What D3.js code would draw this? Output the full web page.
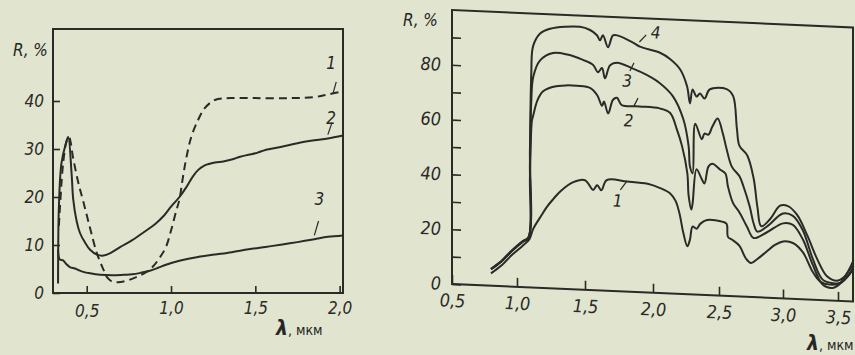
<!DOCTYPE html>
<html>
<head>
<meta charset="utf-8">
<script src="https://cdn.jsdelivr.net/npm/d3@7"></script>
<style>
  body { margin: 0; background: #e1e4cf; }
  svg { display: block; }
  text { font-family: "DejaVu Sans Condensed", "DejaVu Sans", sans-serif; font-style: italic; fill: #262624; }
</style>
</head>
<body>
<svg id="chart" width="855" height="355"></svg>
<script>
// ---- left panel data: wavelength (мкм), R (%)
const leftTicksX = [0.5, 1.0, 1.5, 2.0];
const leftTicksY = [0, 10, 20, 30, 40];
const leftCurve1 = [[0.335,14],[0.36,27],[0.38,31.5],[0.395,32.5],[0.42,28],[0.45,23],[0.48,19],[0.52,13.5],[0.56,8.3],
  [0.6,4.8],[0.62,3.3],[0.65,2.4],[0.7,2.3],[0.75,2.7],[0.8,3.4],[0.85,4.3],[0.89,5.4],[0.93,7.2],[0.97,9.6],[1.0,13],
  [1.03,17],[1.05,19.5],[1.07,24],[1.09,28],[1.12,32.5],[1.16,36],[1.2,38.5],[1.26,40.2],[1.35,40.6],[1.5,40.6],
  [1.7,40.6],[1.85,40.8],[1.92,41.3],[2.02,42]];
const leftCurve2 = [[0.33,2],[0.335,18],[0.35,27],[0.375,31],[0.39,32.5],[0.41,25],[0.42,19.5],[0.44,15],[0.46,12.5],
  [0.49,10.5],[0.52,9],[0.56,8],[0.6,7.8],[0.65,8.5],[0.7,9.6],[0.77,11],[0.84,12.7],[0.91,14.5],[0.96,16.2],[1.0,18],
  [1.05,20],[1.09,22],[1.13,24.3],[1.16,25.6],[1.2,26.6],[1.26,27.2],[1.31,27.4],[1.36,27.8],[1.41,28.4],[1.46,28.8],
  [1.51,29.2],[1.56,29.8],[1.65,30.4],[1.75,31.2],[1.85,31.8],[1.93,32.2],[2.02,32.8]];
const leftCurve3 = [[0.33,9],[0.34,7],[0.36,6.8],[0.38,6],[0.4,5.4],[0.43,5.1],[0.45,4.8],[0.48,4.4],[0.52,4.1],
  [0.58,3.8],[0.65,3.7],[0.72,3.8],[0.77,3.9],[0.82,4.2],[0.87,4.6],[0.92,5.2],[0.97,5.9],[1.05,6.7],[1.16,7.5],
  [1.26,8],[1.36,8.5],[1.46,9.1],[1.56,9.6],[1.66,10.1],[1.75,10.6],[1.85,11.2],[1.93,11.7],[2.02,12]];

// ---- right panel data
const rightTicksX = [0.5, 1.0, 1.5, 2.0, 2.5, 3.0, 3.5];
const rightTicksY = [0, 10, 20, 30, 40, 50, 60, 70, 80, 90];
const rightCurve1 = [[0.8,4.5],[0.88,7.5],[0.96,11.5],[1.04,15],[1.09,17.5],[1.12,21.5],[1.18,26.5],[1.22,29.7],
  [1.27,32.8],[1.32,35.6],[1.41,39],[1.5,40],[1.56,36.6],[1.59,38.4],[1.62,36.6],[1.66,40.4],[1.81,40.2],[1.96,39.7],
  [2.05,38.4],[2.13,36.5],[2.17,34],[2.2,29.5],[2.23,22.3],[2.26,17.5],[2.28,20],[2.3,24.8],[2.33,24.1],[2.36,26],
  [2.41,27.4],[2.53,27],[2.56,26.3],[2.57,21.6],[2.6,20.7],[2.66,18.5],[2.71,14],[2.75,12.4],[2.8,14],[2.87,16.8],
  [2.94,19.5],[3.0,20.8],[3.09,20.4],[3.18,17.2],[3.27,10.2],[3.34,6.7],[3.43,5.8],[3.52,6.6],[3.6,11.5],[3.64,15]];
const rightCurve2 = [[0.8,6],[0.88,9],[0.96,13],[1.04,16.5],[1.085,18],[1.095,40],[1.105,58],[1.11,61],[1.12,63],
  [1.15,68.4],[1.19,71.7],[1.26,73.5],[1.36,74.3],[1.44,74.3],[1.54,73.7],[1.59,71.2],[1.625,67.4],[1.64,69],
  [1.67,64.7],[1.706,69.8],[1.735,70.6],[1.77,68],[1.9,67.8],[2.05,67.4],[2.13,65.9],[2.18,60.1],[2.22,54],
  [2.26,44.2],[2.27,36],[2.29,31],[2.3,33.3],[2.33,45.8],[2.37,42.2],[2.39,40.7],[2.42,46.9],[2.45,48],[2.51,46],
  [2.55,44.7],[2.57,40],[2.61,34],[2.66,30.7],[2.72,25.5],[2.77,21.6],[2.875,23.9],[3.0,27.4],[3.09,27],[3.18,21.9],
  [3.27,12.8],[3.36,5.7],[3.45,4.6],[3.52,6.3],[3.6,9.6],[3.64,12]];
const rightCurve3 = [[0.8,6],[0.88,9],[0.96,13],[1.04,16.5],[1.085,18.2],[1.095,45],[1.105,68],[1.12,77],[1.17,83],
  [1.265,85.9],[1.37,85.6],[1.485,83.9],[1.56,82.2],[1.595,79.6],[1.625,81.2],[1.647,77.5],[1.684,82.3],[1.735,83.4],
  [1.853,81.5],[1.95,79.5],[2.05,76.7],[2.15,72.1],[2.23,63.8],[2.27,54],[2.28,46.7],[2.3,44.2],[2.32,62.4],
  [2.37,56.8],[2.39,58.9],[2.42,58.6],[2.45,61.6],[2.49,64.6],[2.53,59.2],[2.56,53.5],[2.6,47.3],[2.66,43.9],
  [2.69,40.4],[2.74,33],[2.77,27],[2.8,24],[2.875,26],[3.0,31],[3.09,30.3],[3.18,25.2],[3.27,15],[3.36,7.5],
  [3.45,6.4],[3.52,6.6],[3.61,10.4],[3.64,13]];
const rightCurve4 = [[0.8,6.2],[0.88,9.2],[0.96,13.2],[1.04,16.7],[1.085,18.4],[1.095,50],[1.105,78],[1.118,88],
  [1.17,92.8],[1.243,94.7],[1.463,95.9],[1.537,94.9],[1.588,93.1],[1.61,91.3],[1.632,93.2],[1.669,88.9],[1.706,93.3],
  [1.743,93.3],[1.853,91],[1.904,89.6],[2.053,87.7],[2.129,85.6],[2.205,82],[2.258,75.9],[2.28,69.7],[2.3,74.8],
  [2.33,72.3],[2.356,73.5],[2.39,71.7],[2.43,75.1],[2.56,75.5],[2.61,73.1],[2.64,61.2],[2.66,55],[2.72,51.7],
  [2.77,43.5],[2.8,33],[2.83,26],[2.9,28.8],[2.977,33.8],[3.045,33.8],[3.127,30.8],[3.22,23.5],[3.31,15],[3.4,8.8],
  [3.49,7.3],[3.55,8.6],[3.64,14]];

// curve number labels: [text, λ, R] for the label, then leader start/end
const leftLabels = [['1', 1.95, 48, 1.96, 41.5, 1.98, 44], ['2', 1.95, 36.5, 1.93, 33, 1.955, 35.5], ['3', 1.88, 19.5, 1.85, 12, 1.875, 15]];
const rightLabels = [['4', 2.02, 95, 1.9, 91.3, 1.95, 94], ['3', 1.81, 77, 1.83, 80.6, 1.86, 83.6],
  ['2', 1.82, 62.5, 1.86, 67.9, 1.89, 70.8], ['1', 1.74, 33, 1.76, 37, 1.81, 40.4]];

const ink = '#2a2a27';
const fmt = d => d.toFixed(1).replace('.', ',');
const svg = d3.select('#chart');

function drawCurves(g, x, y, curves) {
  const line = d3.line().x(d => x(d[0])).y(d => y(d[1])).curve(d3.curveCatmullRom.alpha(0.5));
  curves.forEach(c => {
    g.append('path').attr('d', line(c.data))
      .attr('fill', 'none').attr('stroke', ink).attr('stroke-width', 2)
      .attr('stroke-dasharray', c.dash || null).attr('stroke-linejoin', 'round');
  });
}

function drawLabels(g, x, y, labels) {
  labels.forEach(l => {
    g.append('text').attr('x', x(l[1])).attr('y', y(l[2])).attr('dy', '0.35em')
      .attr('text-anchor', 'middle').style('font-size', '17px').text(l[0]);
    g.append('line').attr('x1', x(l[3])).attr('y1', y(l[4])).attr('x2', x(l[5])).attr('y2', y(l[6]))
      .attr('stroke', ink).attr('stroke-width', 1.2);
  });
}

function styleAxis(g, size) {
  g.select('.domain').remove();
  g.selectAll('.tick line').attr('stroke', ink).attr('stroke-width', 1.6);
  g.selectAll('.tick text').style('font-size', size).style('fill', ink);
}

// ---------- left panel
{
  const x = d3.scaleLinear().domain([0.3, 2.02]).range([53, 343]);
  const y = d3.scaleLinear().domain([0, 55]).range([293, 29]);
  const g = svg.append('g');

  g.append('g').attr('transform', 'translate(0,293)')
    .call(d3.axisBottom(x).tickValues(leftTicksX).tickSize(-7).tickPadding(9).tickFormat(fmt))
    .call(a => styleAxis(a, '17px'));
  g.append('g').attr('transform', 'translate(53,0)')
    .call(d3.axisLeft(y).tickValues(leftTicksY).tickSize(-7).tickPadding(9).tickFormat(d => d))
    .call(a => styleAxis(a, '17px'));
  g.select('.tick text').attr('dy', '0.9em');

  g.append('rect').attr('x', 53).attr('y', 29).attr('width', 290).attr('height', 264)
    .attr('fill', 'none').attr('stroke', ink).attr('stroke-width', 2);

  drawCurves(g, x, y, [
    { data: leftCurve1, dash: '8,5' },
    { data: leftCurve2 },
    { data: leftCurve3 }
  ]);
  drawLabels(g, x, y, leftLabels);

  g.append('text').attr('x', 13).attr('y', 56).style('font-size', '17px').text('R, %');
  const t = g.append('text').attr('x', 276).attr('y', 335);
  t.append('tspan').style('font-size', '21px').style('font-weight', 'bold').text('λ');
  t.append('tspan').style('font-size', '14px').style('font-style', 'normal').text(', мкм');
}

// ---------- right panel (slightly skewed like the photographed page)
{
  const x = d3.scaleLinear().domain([0.5, 1.0, 1.5, 2.0, 2.5, 3.0, 3.5]).range([452, 517, 585, 653, 719, 783, 838]);
  const y = d3.scaleLinear().domain([0, 100]).range([284, 10]);
  const g = svg.append('g').attr('transform', 'translate(452,284) skewY(2.5) translate(-452,-284)');

  g.append('g').attr('transform', 'translate(0,284)')
    .call(d3.axisBottom(x).tickValues(rightTicksX).tickSize(-9).tickPadding(10).tickFormat(fmt))
    .call(a => styleAxis(a, '18px'));
  g.append('g').attr('transform', 'translate(452,0)')
    .call(d3.axisLeft(y).tickValues(rightTicksY).tickSize(-9).tickPadding(11).tickFormat(d => d % 20 === 0 ? d : ''))
    .call(a => styleAxis(a, '18px'));

  g.append('rect').attr('x', 452).attr('y', 10).attr('width', 401).attr('height', 274)
    .attr('fill', 'none').attr('stroke', ink).attr('stroke-width', 2);

  drawCurves(g, x, y, [
    { data: rightCurve1 }, { data: rightCurve2 }, { data: rightCurve3 }, { data: rightCurve4 }
  ]);
  drawLabels(g, x, y, rightLabels);
}

svg.append('text').attr('x', 403).attr('y', 26).style('font-size', '17px').text('R, %');
const t2 = svg.append('text').attr('x', 807).attr('y', 350);
t2.append('tspan').style('font-size', '21px').style('font-weight', 'bold').text('λ');
t2.append('tspan').style('font-size', '14px').style('font-style', 'normal').text(', мкм');
</script>
</body>
</html>
